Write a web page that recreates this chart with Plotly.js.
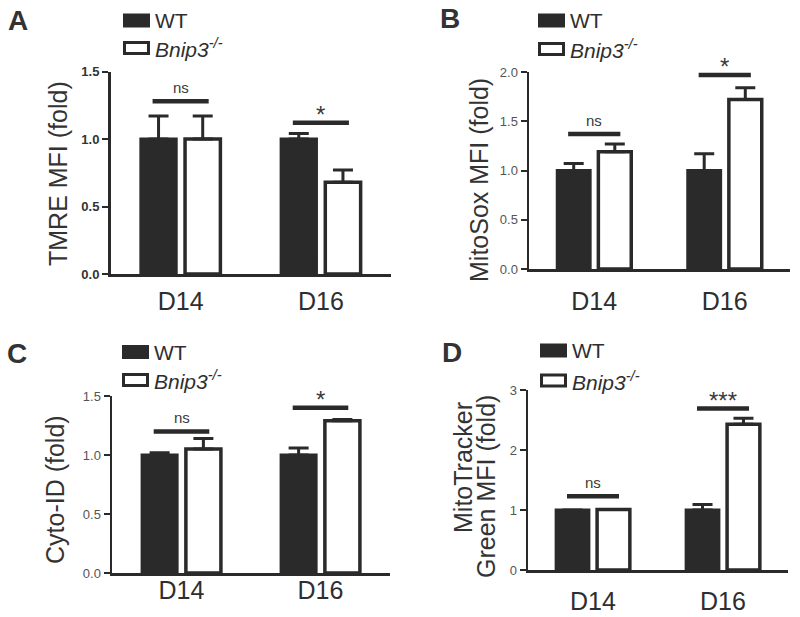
<!DOCTYPE html>
<html>
<head>
<meta charset="utf-8">
<script src="https://cdn.plot.ly/plotly-3.0.1.min.js"></script>
<style>html,body{margin:0;padding:0;background:#fff;}#chart{width:800px;height:617px;}</style>
</head>
<body>
<div id="chart"></div>
<script>
// ---- data ----
const categories = ['D14', 'D16'];
const seriesNames = ['WT', '<i>Bnip3</i><sup><i>-/-</i></sup>'];

// Panel A: TMRE MFI (fold)
const tmreWT = [1.0, 1.0];
const tmreWTErr = [0.17, 0.04];
const tmreKO = [1.0, 0.68];
const tmreKOErr = [0.17, 0.09];
const tmreSig = [1.28, 1.12];
const tmreSigLabel = ['ns', '*'];

// Panel B: MitoSox MFI (fold)
const mitosoxWT = [1.0, 1.0];
const mitosoxWTErr = [0.07, 0.17];
const mitosoxKO = [1.19, 1.72];
const mitosoxKOErr = [0.08, 0.12];
const mitosoxSig = [1.37, 1.97];
const mitosoxSigLabel = ['ns', '*'];

// Panel C: Cyto-ID (fold)
const cytoWT = [1.0, 1.0];
const cytoWTErr = [0.02, 0.06];
const cytoKO = [1.05, 1.29];
const cytoKOErr = [0.09, 0.01];
const cytoSig = [1.2, 1.4];
const cytoSigLabel = ['ns', '*'];

// Panel D: MitoTracker Green MFI (fold)
const mtgWT = [1.0, 1.0];
const mtgWTErr = [0.0, 0.09];
const mtgKO = [1.01, 2.43];
const mtgKOErr = [0.0, 0.1];
const mtgSig = [1.23, 2.69];
const mtgSigLabel = ['ns', '***'];

const panelLetters = ['A', 'B', 'C', 'D'];
const yTitles = ['TMRE MFI (fold)', 'MitoSox MFI (fold)', 'Cyto-ID (fold)', ['MitoTracker', 'Green MFI (fold)']];
const yRanges = [[0, 1.5], [0, 2.0], [0, 1.5], [0, 3]];
const yDtick = [0.5, 0.5, 0.5, 1];
const yFormat = ['.1f', '.1f', '.1f', 'd'];

// ---- style / layout ----
const W = 800, H = 617;
const px = x => x / W;
const py = y => 1 - y / H;
const DARK = '#2a2a2a';
const FONT = 'Liberation Sans, Arial, Helvetica, sans-serif';

const panels = [
  {wt: tmreWT, wtErr: tmreWTErr, ko: tmreKO, koErr: tmreKOErr, sig: tmreSig, sigLabel: tmreSigLabel,
   dom: {x0: 110.5, x1: 391, yTop: 71.5, yBot: 274}, standoff: 3, bold: true,
   letter: [18, 21], title: [[58.5, 173.5]], legend: {x: 123, y1: 20.5, y2: 48}},
  {wt: mitosoxWT, wtErr: mitosoxWTErr, ko: mitosoxKO, koErr: mitosoxKOErr, sig: mitosoxSig, sigLabel: mitosoxSigLabel,
   dom: {x0: 529, x1: 790, yTop: 72, yBot: 269}, standoff: 8, bold: false,
   letter: [450, 18], title: [[479, 180]], legend: {x: 538, y1: 20.5, y2: 49}},
  {wt: cytoWT, wtErr: cytoWTErr, ko: cytoKO, koErr: cytoKOErr, sig: cytoSig, sigLabel: cytoSigLabel,
   dom: {x0: 112, x1: 390, yTop: 396, yBot: 573}, standoff: -7, bold: false,
   letter: [17, 353], title: [[55, 490]], legend: {x: 122, y1: 352, y2: 380}},
  {wt: mtgWT, wtErr: mtgWTErr, ko: mtgKO, koErr: mtgKOErr, sig: mtgSig, sigLabel: mtgSigLabel,
   dom: {x0: 528, x1: 788, yTop: 390, yBot: 570}, standoff: 7, bold: false,
   letter: [452, 352], title: [[463, 468], [486, 487]], legend: {x: 540, y1: 350.5, y2: 380.5}}
];

const xIdx = categories.map((c, i) => i);
const traces = [];
const shapes = [];
const annotations = [];
const layout = {
  width: W, height: H,
  margin: {l: 0, r: 0, t: 0, b: 0},
  paper_bgcolor: '#fff', plot_bgcolor: '#fff',
  showlegend: false,
  barmode: 'group', bargap: 0.37, bargroupgap: 0.2,
  font: {family: FONT, color: DARK}
};

panels.forEach((p, k) => {
  const s = k === 0 ? '' : String(k + 1);
  const xa = 'x' + s, ya = 'y' + s;
  layout['xaxis' + s] = {
    domain: [px(p.dom.x0), px(p.dom.x1)], anchor: ya,
    range: [-0.5, 1.5], tickvals: xIdx, ticktext: categories,
    showline: true, linecolor: DARK, linewidth: 2.5, ticks: '',
    showgrid: false, zeroline: false, fixedrange: true,
    ticklabelstandoff: p.standoff,
    tickfont: {family: FONT, size: 25, color: '#2e2e2e'}
  };
  layout['yaxis' + s] = {
    domain: [py(p.dom.yBot), py(p.dom.yTop)], anchor: xa,
    range: yRanges[k], dtick: yDtick[k], tick0: 0, tickformat: yFormat[k],
    showline: true, linecolor: DARK, linewidth: 2.5,
    ticks: 'outside', ticklen: 6, tickwidth: 2, tickcolor: DARK,
    showgrid: false, zeroline: false, fixedrange: true,
    tickfont: {family: FONT, size: 13, color: p.bold ? '#333' : '#555', weight: p.bold ? 'bold' : 'normal'}
  };

  traces.push({
    type: 'bar', x: xIdx, y: p.wt, xaxis: xa, yaxis: ya, name: 'WT',
    marker: {color: DARK, line: {color: DARK, width: 3}},
    error_y: {type: 'data', symmetric: false, array: p.wtErr, arrayminus: p.wtErr.map(() => 0),
              color: DARK, thickness: 3, width: 10}
  });
  traces.push({
    type: 'bar', x: xIdx, y: p.ko, xaxis: xa, yaxis: ya, name: 'Bnip3-/-',
    marker: {color: '#fff', line: {color: DARK, width: 3.5}},
    error_y: {type: 'data', symmetric: false, array: p.koErr, arrayminus: p.koErr.map(() => 0),
              color: DARK, thickness: 3, width: 10}
  });

  // significance bars
  p.sig.forEach((v, i) => {
    traces.push({
      type: 'scatter', mode: 'lines', x: [xIdx[i] - 0.2, xIdx[i] + 0.2], y: [v, v],
      xaxis: xa, yaxis: ya, line: {color: DARK, width: 4.5}, hoverinfo: 'skip'
    });
    const isNs = p.sigLabel[i] === 'ns';
    annotations.push({
      xref: xa, yref: ya, x: xIdx[i], y: v, text: p.sigLabel[i], showarrow: false,
      xanchor: 'center', yanchor: 'bottom', yshift: isNs ? 3 : -7,
      font: {family: FONT, size: isNs ? 15 : 24, color: '#3a3a3a'}
    });
  });

  // panel letter
  annotations.push({
    xref: 'paper', yref: 'paper', x: px(p.letter[0]), y: py(p.letter[1]),
    text: '<b>' + panelLetters[k] + '</b>', showarrow: false, xanchor: 'center', yanchor: 'middle',
    font: {family: FONT, size: 28, color: '#333'}
  });

  // y-axis title(s)
  const tt = Array.isArray(yTitles[k]) ? yTitles[k] : [yTitles[k]];
  tt.forEach((t, j) => {
    annotations.push({
      xref: 'paper', yref: 'paper', x: px(p.title[j][0]), y: py(p.title[j][1]),
      text: t, textangle: -90, showarrow: false, xanchor: 'center', yanchor: 'middle',
      font: {family: FONT, size: 25, color: '#333'}
    });
  });

  // legend
  const L = p.legend;
  [[L.y1, DARK], [L.y2, '#fff']].forEach((row, j) => {
    shapes.push({
      type: 'rect', xref: 'paper', yref: 'paper',
      x0: px(L.x + 1.5), x1: px(L.x + 25.5), y0: py(row[0] - 5.5), y1: py(row[0] + 5.5),
      fillcolor: row[1], line: {color: DARK, width: 3}
    });
    annotations.push({
      xref: 'paper', yref: 'paper', x: px(L.x + 30), y: py(row[0]),
      text: seriesNames[j], showarrow: false, xanchor: 'left', yanchor: 'middle',
      font: {family: FONT, size: 21, color: '#2e2e2e'}
    });
  });
});

layout.shapes = shapes;
layout.annotations = annotations;

Plotly.newPlot('chart', traces, layout, {staticPlot: true, displayModeBar: false});
</script>
</body>
</html>
